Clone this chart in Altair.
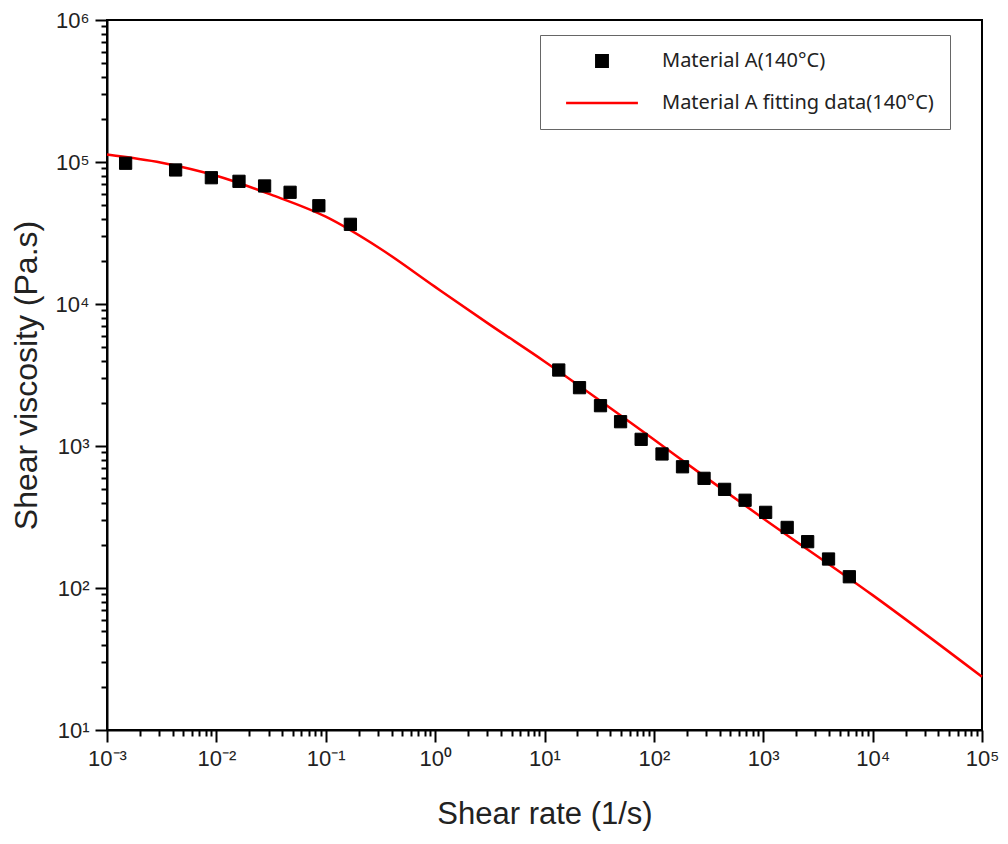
import altair as alt
import pandas as pd

# Measured data (Material A, 140 °C)
shear_rate = [0.00148, 0.00424, 0.0090, 0.0161, 0.0276, 0.0472, 0.0865, 0.168,
              13.5, 20.9, 32.5, 49.6, 76.5, 118.7, 182.7, 287.6, 443, 682,
              1052, 1655, 2547, 3953, 6124]
viscosity = [98000, 87900, 77500, 73100, 67800, 61200, 49200, 36400,
             3428, 2575, 1923, 1483, 1114, 879, 714, 592, 495, 415,
             341, 267, 212, 160, 120]

# Fitting curve
fit_rate = [0.001, 0.00316, 0.01, 0.0316, 0.1, 0.316, 1, 3.16, 10, 31.6,
            100, 316, 1000, 10000, 100000]
fit_visc = [113000, 98900, 80000, 58900, 41200, 24500, 13200, 7160, 3940, 2110,
            1110, 582, 309, 89.1, 23.7]

series_names = ["Material A(140°C)", "Material A fitting data(140°C)"]

x_ticks = [m * 10.0 ** e for e in range(-3, 5) for m in range(1, 10)] + [1e5]
y_ticks = [m * 10.0 ** e for e in range(1, 6) for m in range(1, 10)] + [1e6]

pts = pd.DataFrame({"rate": shear_rate, "visc": viscosity, "series": series_names[0]})
fit = pd.DataFrame({"rate": fit_rate, "visc": fit_visc})

W, H = 875, 710

is_major = "abs(log(datum.value)/LN10 - round(log(datum.value)/LN10)) < 1e-6"
sup = "['⁻³','⁻²','⁻¹','⁰','¹','²','³','⁴','⁵','⁶'][round(log(datum.value)/LN10)+3]"
label_expr = f"({is_major}) ? '10' + {sup} : ''"

def make_axis(title, values, title_size, **kw):
    return alt.Axis(
        title=title, values=values, labelExpr=label_expr,
        labelOverlap=False, labelFlush=False, grid=False,
        tickSize={"condition": {"test": is_major, "value": 12}, "value": 6},
        tickWidth=2, tickColor="black", domainColor="black", domainWidth=2,
        labelFont="Liberation Sans", labelFontSize=22, labelColor="#222",
        titleFont="Liberation Sans", titleFontSize=title_size, titleFontWeight="normal",
        titleColor="#222", **kw)

xs = alt.Scale(type="log", domain=[1e-3, 1e5], nice=False)
ys = alt.Scale(type="log", domain=[10, 1e6], nice=False)

points = alt.Chart(pts).mark_point(filled=True, size=150, strokeWidth=1, opacity=1).encode(
    x=alt.X("rate:Q", scale=xs,
            axis=make_axis("Shear rate (1/s)", x_ticks, 31, labelPadding=6, titlePadding=30)),
    y=alt.Y("visc:Q", scale=ys,
            axis=make_axis("Shear viscosity (Pa.s)", y_ticks, 32, labelPadding=6, titlePadding=12)),
    color=alt.Color("series:N", scale=alt.Scale(domain=series_names, range=["black", "red"]), title=None),
    stroke=alt.Stroke("series:N", scale=alt.Scale(domain=series_names, range=["black", "red"]), title=None),
    shape=alt.Shape("series:N", scale=alt.Scale(domain=series_names, range=["square", "M-6.3,0L6.3,0"]), title=None),
)

line = alt.Chart(fit).mark_line(color="#ff0000", strokeWidth=2.5, interpolate="monotone").encode(
    x=alt.X("rate:Q", scale=xs),
    y=alt.Y("visc:Q", scale=ys),
)

chart = alt.layer(line, points).properties(
    width=W, height=H,
    autosize=alt.AutoSizeParams(type="none"),
    padding={"left": 99, "top": 12, "right": 18, "bottom": 106},
).configure_view(
    stroke="black", strokeWidth=2
).configure_legend(
    orient="none", legendX=433, legendY=15,
    strokeColor="#666", fillColor="white", padding=16,
    labelFont="Noto Sans", labelFontSize=20, labelColor="#222", labelLimit=500,
    symbolSize=130, symbolStrokeWidth=2.5, symbolOffset=36, labelOffset=50,
    rowPadding=21,
)

chart.save("out.html", embed_options={"renderer": "svg", "actions": False})
